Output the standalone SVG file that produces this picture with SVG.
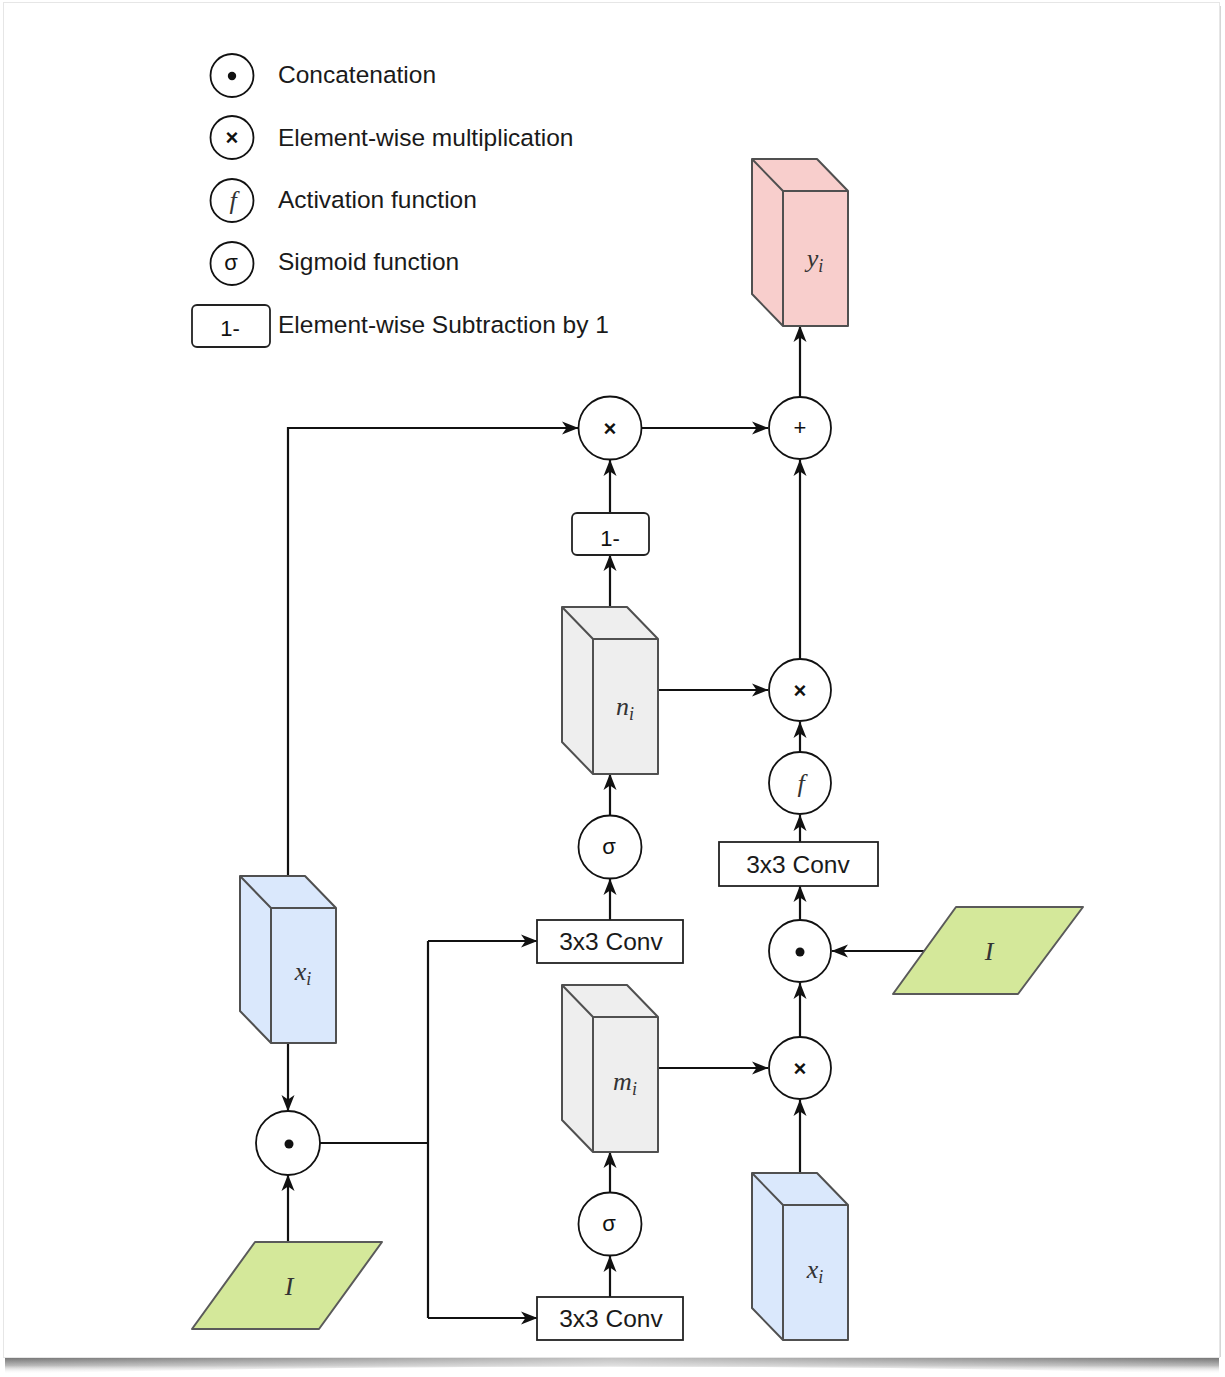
<svg xmlns="http://www.w3.org/2000/svg" xmlns:xlink="http://www.w3.org/1999/xlink" width="1225" height="1377" viewBox="0 0 1225 1377">
  <style>
    .op{fill:#fff;stroke:#111;stroke-width:1.8}
    .cn{fill:none;stroke:#111;stroke-width:2.2;marker-end:url(#arr)}
    .ln{fill:none;stroke:#111;stroke-width:2.2}
    .box{fill:#fff;stroke:#222;stroke-width:1.8}
    .cube{stroke:#505050;stroke-width:2;stroke-linejoin:round}
    .edge{fill:none;stroke:#505050;stroke-width:2;stroke-linejoin:round}
    .para{fill:#d4e89a;stroke:#5a5a5a;stroke-width:2;stroke-linejoin:round}
    .t{font-family:"Liberation Sans",Arial,sans-serif;font-size:24.5px;fill:#1a1a1a}
    .sym{font-family:"Liberation Sans",Arial,sans-serif;font-size:22px;fill:#111;text-anchor:middle}
    .lab{font-family:"Liberation Serif","Times New Roman",serif;font-style:italic;font-size:26px;fill:#333;text-anchor:middle}
    .sub{font-size:18px}
  </style>
  <defs>
    <marker id="arr" markerUnits="userSpaceOnUse" markerWidth="17" markerHeight="14" viewBox="0 0 17 14" refX="16" refY="7" orient="auto">
      <path d="M0,0.5 L16.5,7 L0,13.5 L4.5,7 Z" fill="#111"/>
    </marker>
    <!-- cube: back-top-left corner at origin, front face 65x135 offset by (31,32) -->
    <path id="cubeOut" d="M0,0 H65 L96,32 V167 H31 L0,135 Z"/>
    <path id="cubeIn" d="M0,0 L31,32 H96 M31,32 V167"/>
    <linearGradient id="shade" x1="0" y1="0" x2="0" y2="1">
      <stop offset="0" stop-color="#6e6e6e"/>
      <stop offset="0.5" stop-color="#b8b8b8"/>
      <stop offset="1" stop-color="#ffffff" stop-opacity="0"/>
    </linearGradient>
    <linearGradient id="shadeH" x1="0" y1="0" x2="1" y2="0">
      <stop offset="0" stop-color="#fff" stop-opacity="0"/>
      <stop offset="0.5" stop-color="#fff" stop-opacity="0.55"/>
      <stop offset="1" stop-color="#fff" stop-opacity="0"/>
    </linearGradient>
  </defs>

  <!-- page with curled shadow -->
  <rect x="0" y="0" width="1225" height="1377" fill="#fff"/>
  <path d="M5,1357 H1219 V1374 Q612,1359 5,1374 Z" fill="url(#shade)"/>
  <path d="M5,1357 H1219 V1374 Q612,1359 5,1374 Z" fill="url(#shadeH)"/>
  <rect x="1218" y="6" width="3" height="1351" fill="#d6d6d6"/>
  <rect x="3.5" y="2.5" width="1216" height="1355" fill="#fff" stroke="#e6e6e6" stroke-width="1"/>

  <!-- legend -->
  <g id="legend">
    <circle class="op" cx="232" cy="75.5" r="21.5"/>
    <circle cx="232" cy="76" r="4.2" fill="#111"/>
    <text class="t" x="278" y="83">Concatenation</text>
    <circle class="op" cx="232" cy="137.5" r="21.5"/>
    <text class="sym" x="232" y="145" font-weight="bold" font-size="20">×</text>
    <text class="t" x="278" y="146">Element-wise multiplication</text>
    <circle class="op" cx="232" cy="200.5" r="21.5"/>
    <text class="lab" x="233" y="209" fill="#111" font-size="24">f</text>
    <text class="t" x="278" y="208">Activation function</text>
    <circle class="op" cx="232" cy="263.5" r="21.5"/>
    <text class="sym" x="231" y="270" font-size="21">σ</text>
    <text class="t" x="278" y="270">Sigmoid function</text>
    <rect class="box" x="192" y="305" width="78" height="42" rx="5"/>
    <text class="sym" x="230" y="336" font-size="24">1-</text>
    <text class="t" x="278" y="333">Element-wise Subtraction by 1</text>
  </g>

  <!-- connectors -->
  <g id="connectors">
    <path class="cn" d="M288,876 V428 H578"/>
    <path class="cn" d="M642,428 H768"/>
    <path class="cn" d="M800,397 V326"/>
    <path class="cn" d="M610,513 V460"/>
    <path class="cn" d="M610,607 V555"/>
    <path class="cn" d="M658,690 H768"/>
    <path class="cn" d="M800,659 V460"/>
    <path class="cn" d="M800,752 V722"/>
    <path class="cn" d="M800,842 V815"/>
    <path class="cn" d="M800,920 V886"/>
    <path class="cn" d="M924,951 H832"/>
    <path class="cn" d="M800,1037 V983"/>
    <path class="cn" d="M658,1068 H768"/>
    <path class="cn" d="M800,1173 V1100"/>
    <path class="cn" d="M610,816 V774"/>
    <path class="cn" d="M610,920 V879"/>
    <path class="cn" d="M610,1193 V1152"/>
    <path class="cn" d="M610,1297 V1256"/>
    <path class="cn" d="M288,1043 V1111"/>
    <path class="cn" d="M288,1242 V1175"/>
    <path class="ln" d="M320,1143 H428 M428,941 V1318"/>
    <path class="cn" d="M428,941 H537"/>
    <path class="cn" d="M428,1318 H537"/>
  </g>

  <!-- output tensor -->
  <g id="y_i" transform="translate(752,159)">
    <use xlink:href="#cubeOut" class="cube" fill="#f8cecc"/>
    <use xlink:href="#cubeIn" class="edge"/>
    <text class="lab" x="63" y="108">y<tspan class="sub" dy="5">i</tspan></text>
  </g>

  <g id="mul_top">
    <circle class="op" cx="610" cy="428" r="31.5"/>
    <text class="sym" x="610" y="436" font-weight="bold" font-size="21">×</text>
  </g>
  <g id="add">
    <circle class="op" cx="800" cy="428" r="31"/>
    <text class="sym" x="800" y="435" font-size="21">+</text>
  </g>
  <g id="one_minus">
    <rect class="box" x="572" y="513" width="77" height="42" rx="5"/>
    <text class="sym" x="610" y="546" font-size="24">1-</text>
  </g>

  <g id="n_i" transform="translate(562,607)">
    <use xlink:href="#cubeOut" class="cube" fill="#eeeeee"/>
    <use xlink:href="#cubeIn" class="edge"/>
    <text class="lab" x="63" y="108">n<tspan class="sub" dy="5">i</tspan></text>
  </g>

  <g id="mul_mid">
    <circle class="op" cx="800" cy="690" r="31"/>
    <text class="sym" x="800" y="698" font-weight="bold" font-size="21">×</text>
  </g>
  <g id="act">
    <circle class="op" cx="800" cy="783" r="31"/>
    <text class="lab" x="801" y="792" fill="#111" font-size="26">f</text>
  </g>
  <g id="sigma_top">
    <circle class="op" cx="610" cy="847" r="31.5"/>
    <text class="sym" x="609" y="854" font-size="22">σ</text>
  </g>
  <g id="conv_right">
    <rect class="box" x="719" y="842" width="159" height="44"/>
    <text class="t" x="798" y="873" text-anchor="middle" font-size="25">3x3 Conv</text>
  </g>
  <g id="conv_top">
    <rect class="box" x="537" y="920" width="146" height="43"/>
    <text class="t" x="611" y="950" text-anchor="middle" font-size="25">3x3 Conv</text>
  </g>
  <g id="cat_right">
    <circle class="op" cx="800" cy="951" r="31"/>
    <circle cx="800" cy="952" r="4.5" fill="#111"/>
  </g>
  <g id="I_right">
    <polygon class="para" points="956,907 1083,907 1018,994 893,994"/>
    <text class="lab" x="989" y="960" fill="#222" font-size="27">I</text>
  </g>

  <g id="x_i_left" transform="translate(240,876)">
    <use xlink:href="#cubeOut" class="cube" fill="#dae8fc"/>
    <use xlink:href="#cubeIn" class="edge"/>
    <text class="lab" x="63" y="104">x<tspan class="sub" dy="5">i</tspan></text>
  </g>

  <g id="m_i" transform="translate(562,985)">
    <use xlink:href="#cubeOut" class="cube" fill="#eeeeee"/>
    <use xlink:href="#cubeIn" class="edge"/>
    <text class="lab" x="63" y="105">m<tspan class="sub" dy="5">i</tspan></text>
  </g>

  <g id="mul_low">
    <circle class="op" cx="800" cy="1068" r="31"/>
    <text class="sym" x="800" y="1076" font-weight="bold" font-size="21">×</text>
  </g>

  <g id="cat_left">
    <circle class="op" cx="288" cy="1143" r="32"/>
    <circle cx="289" cy="1144" r="4.5" fill="#111"/>
  </g>

  <g id="sigma_low">
    <circle class="op" cx="610" cy="1224" r="31.5"/>
    <text class="sym" x="609" y="1231" font-size="22">σ</text>
  </g>

  <g id="x_i_right" transform="translate(752,1173)">
    <use xlink:href="#cubeOut" class="cube" fill="#dae8fc"/>
    <use xlink:href="#cubeIn" class="edge"/>
    <text class="lab" x="63" y="105">x<tspan class="sub" dy="5">i</tspan></text>
  </g>

  <g id="I_left">
    <polygon class="para" points="255,1242 382,1242 319,1329 192,1329"/>
    <text class="lab" x="289" y="1295" fill="#222" font-size="27">I</text>
  </g>

  <g id="conv_low">
    <rect class="box" x="537" y="1297" width="146" height="43"/>
    <text class="t" x="611" y="1327" text-anchor="middle" font-size="25">3x3 Conv</text>
  </g>
</svg>
